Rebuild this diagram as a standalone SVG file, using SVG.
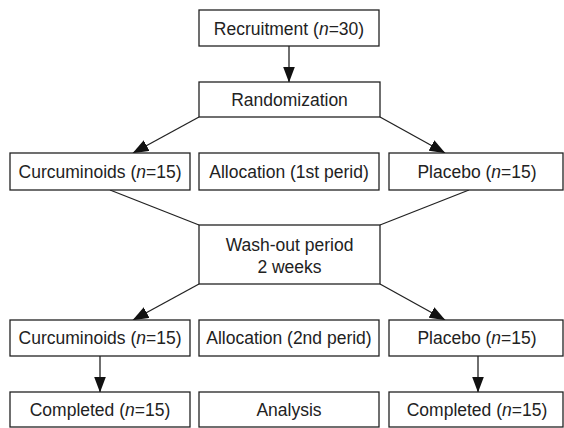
<svg xmlns="http://www.w3.org/2000/svg" width="564" height="428" viewBox="0 0 564 428">
<style>
.box{fill:#fff;stroke:#222;stroke-width:1.3}
.t{font-family:"Liberation Sans",Arial,sans-serif;font-size:17.5px;fill:#222;text-anchor:middle}
.i{font-style:italic}
.c{stroke:#222;stroke-width:1.3;fill:none}
</style>
<defs>
<marker id="ah" markerUnits="userSpaceOnUse" markerWidth="17" markerHeight="12" refX="15.5" refY="6" orient="auto">
<path d="M0,0 L16,6 L0,12 Z" fill="#111"/>
</marker>
</defs>
<rect width="564" height="428" fill="#fff"/>
<g id="connectors">
<line class="c" x1="289" y1="46" x2="289" y2="82" marker-end="url(#ah)"/>
<line class="c" x1="199" y1="117" x2="133" y2="153" marker-end="url(#ah)"/>
<line class="c" x1="380" y1="117" x2="445" y2="153" marker-end="url(#ah)"/>
<line class="c" x1="110" y1="190" x2="199" y2="225"/>
<line class="c" x1="469" y1="190" x2="380" y2="225"/>
<line class="c" x1="199" y1="284" x2="133" y2="320" marker-end="url(#ah)"/>
<line class="c" x1="380" y1="284" x2="445" y2="320" marker-end="url(#ah)"/>
<line class="c" x1="100" y1="356" x2="100" y2="392" marker-end="url(#ah)"/>
<line class="c" x1="478" y1="356" x2="478" y2="392" marker-end="url(#ah)"/>
</g>
<g id="recruitment"><rect class="box" x="199" y="10" width="180" height="36"/><text class="t" x="289" y="34.5">Recruitment (<tspan class="i">n</tspan>=30)</text></g>
<g id="randomization"><rect class="box" x="199" y="82" width="181" height="35"/><text class="t" x="289.5" y="106">Randomization</text></g>
<g id="curc1"><rect class="box" x="10" y="153" width="180" height="37"/><text class="t" x="100" y="178">Curcuminoids (<tspan class="i">n</tspan>=15)</text></g>
<g id="alloc1"><rect class="box" x="199" y="153" width="180" height="37"/><text class="t" x="289" y="178">Allocation (1st perid)</text></g>
<g id="placebo1"><rect class="box" x="389" y="153" width="174" height="37"/><text class="t" x="477" y="178">Placebo (<tspan class="i">n</tspan>=15)</text></g>
<g id="washout"><rect class="box" x="199" y="225" width="181" height="59"/><text class="t" x="289.5" y="251">Wash-out period</text><text class="t" x="289.5" y="273">2 weeks</text></g>
<g id="curc2"><rect class="box" x="10" y="320" width="180" height="36"/><text class="t" x="100" y="344">Curcuminoids (<tspan class="i">n</tspan>=15)</text></g>
<g id="alloc2"><rect class="box" x="199" y="320" width="180" height="36"/><text class="t" x="289" y="344">Allocation (2nd perid)</text></g>
<g id="placebo2"><rect class="box" x="389" y="320" width="174" height="36"/><text class="t" x="477" y="344">Placebo (<tspan class="i">n</tspan>=15)</text></g>
<g id="completed1"><rect class="box" x="10" y="392" width="180" height="35"/><text class="t" x="100" y="416">Completed (<tspan class="i">n</tspan>=15)</text></g>
<g id="analysis"><rect class="box" x="199" y="392" width="180" height="35"/><text class="t" x="289" y="416">Analysis</text></g>
<g id="completed2"><rect class="box" x="389" y="392" width="174" height="35"/><text class="t" x="477" y="416">Completed (<tspan class="i">n</tspan>=15)</text></g>
</svg>
